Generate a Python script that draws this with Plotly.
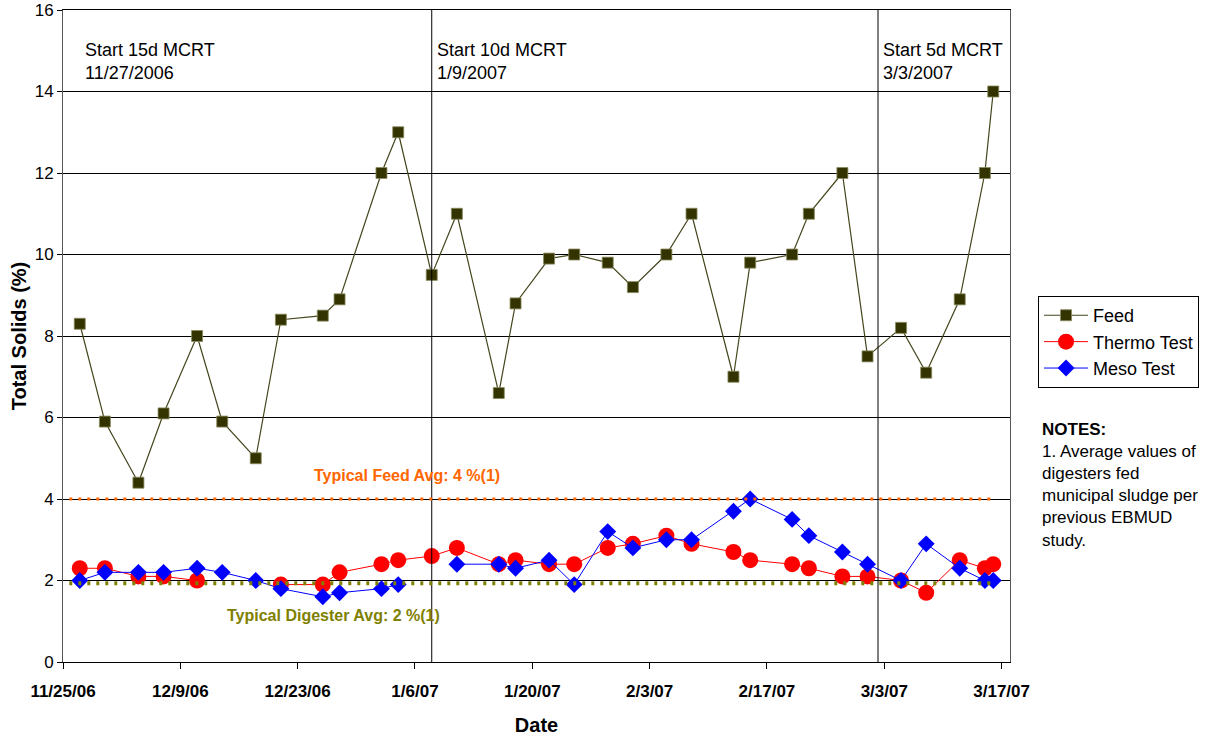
import plotly.graph_objects as go

# ---------------- data ----------------
dates = ["2006-11-27", "2006-11-30", "2006-12-04", "2006-12-07", "2006-12-11",
         "2006-12-14", "2006-12-18", "2006-12-21", "2006-12-26", "2006-12-28",
         "2007-01-02", "2007-01-04", "2007-01-08", "2007-01-11", "2007-01-16",
         "2007-01-18", "2007-01-22", "2007-01-25", "2007-01-29", "2007-02-01",
         "2007-02-05", "2007-02-08", "2007-02-13", "2007-02-15", "2007-02-20",
         "2007-02-22", "2007-02-26", "2007-03-01", "2007-03-05", "2007-03-08",
         "2007-03-12", "2007-03-15", "2007-03-16"]

feed = [8.3, 5.9, 4.4, 6.1, 8.0, 5.9, 5.0, 8.4, 8.5, 8.9,
        12.0, 13.0, 9.5, 11.0, 6.6, 8.8, 9.9, 10.0, 9.8, 9.2,
        10.0, 11.0, 7.0, 9.8, 10.0, 11.0, 12.0, 7.5, 8.2, 7.1,
        8.9, 12.0, 14.0]

thermo = [2.3, 2.3, 2.1, 2.1, 2.0, None, None, 1.9, 1.9, 2.2,
          2.4, 2.5, 2.6, 2.8, 2.4, 2.5, 2.4, 2.4, 2.8, 2.9,
          3.1, 2.9, 2.7, 2.5, 2.4, 2.3, 2.1, 2.1, 2.0, 1.7,
          2.5, 2.3, 2.4]

meso = [2.0, 2.2, 2.2, 2.2, 2.3, 2.2, 2.0, 1.8, 1.6, 1.7,
        1.8, 1.9, None, 2.4, 2.4, 2.3, 2.5, 1.9, 3.2, 2.8,
        3.0, 3.0, 3.7, 4.0, 3.5, 3.1, 2.7, 2.4, 2.0, 2.9,
        2.3, 2.0, 2.0]

mcrt_labels = ["Start 15d MCRT<br>11/27/2006", "Start 10d MCRT<br>1/9/2007", "Start 5d MCRT<br>3/3/2007"]
mcrt_label_dates = ["2006-11-27", "2007-01-08", "2007-03-02 06:00"]
mcrt_line_dates = ["2007-01-08", "2007-03-02 06:00"]

typical_feed_avg = 4.0
typical_digester_avg = 1.93
ref_line_start = "2006-11-25 18:00"
ref_line_end = "2007-03-16 08:00"

x_range = ["2006-11-25", "2007-03-18"]
x_tick0 = "2006-11-25"
y_range = [0, 16]

FONT = "Arial, Liberation Sans, sans-serif"

fig = go.Figure()

fig.add_trace(go.Scatter(
    x=dates, y=feed, name="Feed", mode="lines+markers",
    line=dict(color="#45451c", width=1.2),
    marker=dict(symbol="square", size=11, color="#333300",
                line=dict(color="#8a8a60", width=0.8)),
))
fig.add_trace(go.Scatter(
    x=dates, y=thermo, name="Thermo Test", mode="lines+markers",
    line=dict(color="#FF0000", width=1),
    marker=dict(symbol="circle", size=16, color="#FF0000"),
))
fig.add_trace(go.Scatter(
    x=dates, y=meso, name="Meso Test", mode="lines+markers",
    line=dict(color="#0000FF", width=1),
    marker=dict(symbol="diamond", size=13, color="#0000FF"),
))

shapes = []
for d in mcrt_line_dates:
    shapes.append(dict(type="line", xref="x", yref="paper", x0=d, x1=d, y0=0, y1=1,
                       line=dict(color="black", width=1)))
shapes.append(dict(type="line", xref="x", yref="y", x0=ref_line_start, x1=ref_line_end,
                   y0=typical_feed_avg, y1=typical_feed_avg,
                   line=dict(color="#FF6600", width=3, dash="3px,6px")))
shapes.append(dict(type="line", xref="x", yref="y", x0=ref_line_start, x1=ref_line_end,
                   y0=typical_digester_avg, y1=typical_digester_avg,
                   line=dict(color="#808000", width=4, dash="3px,6px")))

annotations = []
for lbl, d in zip(mcrt_labels, mcrt_label_dates):
    annotations.append(dict(text=lbl, x=d, xref="x", y=1, yref="paper",
                            xanchor="left", yanchor="top", align="left",
                            xshift=3, yshift=-28, showarrow=False,
                            font=dict(family=FONT, size=18, color="black")))
annotations.append(dict(text="<b>Typical Feed Avg: 4 %(1)</b>", x="2007-01-05", xref="x",
                        y=typical_feed_avg, yref="y", yshift=24, showarrow=False,
                        font=dict(family=FONT, size=16, color="#FF6600")))
annotations.append(dict(text="<b>Typical Digester Avg: 2 %(1)</b>", x="2006-12-27 08:00", xref="x",
                        y=typical_digester_avg, yref="y", yshift=-32, showarrow=False,
                        font=dict(family=FONT, size=16, color="#808000")))
annotations.append(dict(text="<b>NOTES:</b><br>1. Average values of<br>digesters fed<br>municipal sludge per<br>previous EBMUD<br>study.",
                        x=1.0317, xref="paper", y=0.374, yref="paper",
                        xanchor="left", yanchor="top", align="left", showarrow=False,
                        font=dict(family=FONT, size=17, color="black")))

fig.update_layout(
    width=1216, height=738,
    margin=dict(l=63, r=206, t=10, b=76, autoexpand=False),
    paper_bgcolor="white", plot_bgcolor="white",
    font=dict(family=FONT, color="black"),
    shapes=shapes, annotations=annotations,
    legend=dict(x=1.0296, y=0.5613, xanchor="left", yanchor="top",
                bordercolor="black", borderwidth=1, bgcolor="white",
                itemwidth=44,
                font=dict(family=FONT, size=18), tracegroupgap=0),
    showlegend=True,
)

fig.update_xaxes(
    type="date", range=x_range, tick0=x_tick0, dtick=14 * 86400000,
    tickformat="%-m/%-d/%y", tickfont=dict(family=FONT, size=17, color="black", weight="bold"),
    ticks="outside", ticklen=6, tickcolor="black", ticklabelstandoff=8,
    showgrid=False, showline=True, linecolor="black", linewidth=1, mirror=True,
    title=dict(text="<b>Date</b>", font=dict(family=FONT, size=20, color="black"), standoff=17),
    zeroline=False, automargin=False,
)
fig.update_yaxes(
    range=y_range, dtick=2, tickfont=dict(family=FONT, size=17, color="black"),
    ticks="outside", ticklen=5, tickcolor="black",
    showgrid=True, gridcolor="black", gridwidth=1,
    showline=True, linecolor="#555555", linewidth=1, mirror=True,
    title=dict(text="<b>Total Solids (%)</b>", font=dict(family=FONT, size=20, color="black"), standoff=2),
    zeroline=False, automargin=False,
)

fig.write_html("out.html", config={"displayModeBar": False},
               post_script="document.body.style.margin='0';")
